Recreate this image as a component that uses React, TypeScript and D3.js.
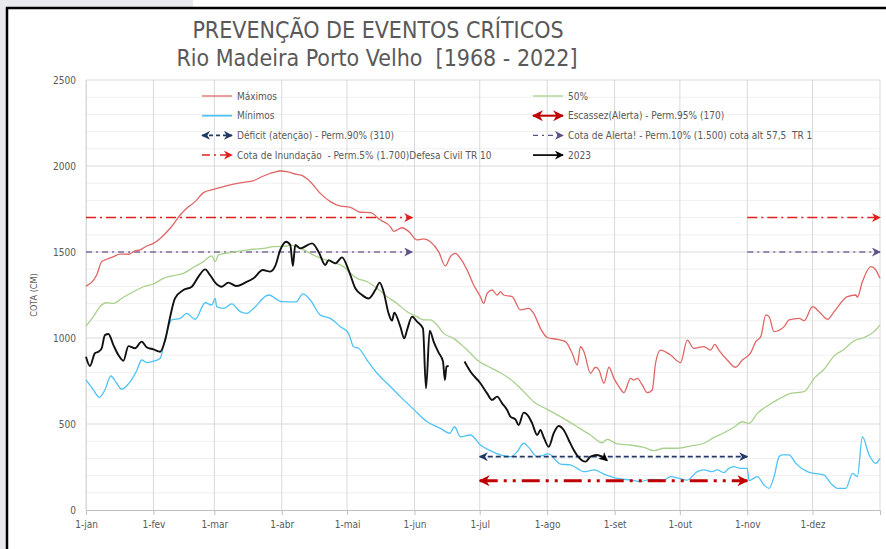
import React, { useEffect, useRef } from "react";
import * as d3 from "d3";

// eixo x: dia do ano (0 = 1-jan)
const monthStarts = [0, 31, 59, 90, 120, 151, 181, 212, 243, 273, 304, 334];
const monthLabels = ["1-jan", "1-fev", "1-mar", "1-abr", "1-mai", "1-jun", "1-jul", "1-ago", "1-set", "1-out", "1-nov", "1-dez"];
const yTicks = [0, 500, 1000, 1500, 2000, 2500];

// [dia, cota cm]
const maximos: [number, number][] = [
  [0, 1302], [4.9, 1366], [7.2, 1444], [9.5, 1458], [12.6, 1473], [15.6, 1488], [19.5, 1487], [22.5, 1506],
  [24.9, 1512], [27.9, 1535], [31, 1550], [34.1, 1579], [38.7, 1638], [43.3, 1715], [46.3, 1754], [50.2, 1793],
  [54, 1845], [58.6, 1864], [63.2, 1880], [67.8, 1895], [72.4, 1905], [77, 1915], [81.6, 1942], [86.2, 1963],
  [89.3, 1971], [92.4, 1967], [97, 1951], [98.5, 1948], [103.1, 1909], [107.7, 1841], [112.3, 1793], [116.9, 1767],
  [121.5, 1760], [126.1, 1731], [130.7, 1729], [135.3, 1686], [139.9, 1648], [141.4, 1620], [145.3, 1641], [148.3, 1620],
  [152.2, 1570], [155.2, 1576], [158.3, 1560], [162.1, 1502], [165.2, 1419], [167.5, 1473], [169.8, 1492], [172.1, 1463],
  [175.2, 1395], [178.2, 1308], [181.3, 1240], [182.8, 1201], [184.4, 1260], [186.7, 1279], [189, 1250], [190.5, 1269],
  [192, 1250], [195.9, 1240], [199.7, 1163], [203.5, 1172], [205.8, 1143], [208.9, 1056], [212, 1003], [216.6, 992],
  [220.4, 979], [223.5, 911], [225.8, 843], [227.3, 949], [228.9, 920], [231.9, 795], [234.2, 830], [235.8, 814],
  [238.1, 737], [240.4, 830], [242.7, 765], [245, 717], [247.3, 682], [250.3, 765], [251.9, 756], [253.4, 765],
  [255.7, 727], [258, 682], [260.3, 698], [261.8, 853], [264.1, 930], [268.7, 901], [273.3, 857], [276.4, 988],
  [279.4, 940], [284, 950], [287.1, 930], [289.1, 963], [290.9, 930], [294.8, 872], [298.6, 830], [301.7, 872],
  [305.6, 915], [307.9, 979], [310.2, 1008], [312.5, 1134], [314, 1124], [316.3, 1037], [320.9, 1066], [323.2, 1105],
  [327.8, 1114], [330.1, 1101], [334, 1182], [337, 1153], [340.9, 1109], [343.9, 1153], [350, 1240], [353.9, 1250],
  [354.6, 1237], [356.9, 1327], [360.8, 1415], [363.1, 1395], [365, 1347],
];

const minimos: [number, number][] = [
  [0, 756], [3.4, 698], [6.1, 655], [8.7, 698], [11.4, 779], [14.1, 737], [16.4, 702], [19.5, 733],
  [23.3, 810], [25.6, 872], [27.9, 857], [31.8, 868], [34.1, 882], [36.4, 998], [39.4, 1105], [43.3, 1114],
  [46.3, 1143], [50.2, 1109], [54.8, 1205], [57.8, 1192], [59.4, 1230], [60.1, 1182], [63.2, 1172], [67, 1198],
  [70.9, 1153], [73.9, 1143], [77, 1172], [83.9, 1250], [90.1, 1211], [96.6, 1210], [99.7, 1256], [103.1, 1221],
  [107.7, 1134], [112.3, 1114], [116.9, 1066], [120.7, 1027], [123, 949], [125.3, 940], [129.2, 872], [133.8, 795],
  [138.4, 737], [144.5, 659], [150.6, 585], [156.8, 513], [162.9, 475], [167.2, 446], [169.4, 484], [172.1, 426],
  [176.7, 436], [181.3, 378], [185.9, 345], [190.5, 320], [195.1, 310], [198.2, 339], [201.2, 388], [203.5, 364],
  [207.4, 310], [212.7, 326], [215.8, 291], [218.1, 267], [222.7, 262], [225.8, 242], [228.9, 223], [233.5, 233],
  [238.1, 209], [244.2, 184], [250.3, 174], [254.9, 165], [259.5, 178], [265.7, 174], [268.7, 194], [272.6, 184],
  [276.4, 174], [281, 223], [284, 233], [287.9, 223], [290.2, 233], [293.2, 217], [295.5, 242], [297.8, 252],
  [300.9, 242], [304, 242], [304.8, 171], [308.6, 194], [311.7, 145], [314, 126], [316.3, 194], [318.6, 310],
  [320.1, 320], [323.2, 320], [326.3, 271], [331.6, 223], [334.7, 213], [339.3, 203], [342.4, 155], [345.5, 126],
  [349.3, 126], [352.4, 213], [354.6, 194], [356.9, 426], [360, 320], [363.1, 271], [365, 300],
];

const mediana: [number, number][] = [
  [0, 1070], [3.4, 1124], [6.4, 1182], [9.5, 1205], [12.6, 1201], [17.2, 1237], [21.8, 1269], [26.4, 1298],
  [31, 1314], [35.6, 1347], [40.2, 1363], [44.8, 1376], [49.4, 1411], [54, 1444], [57.8, 1477], [59.4, 1444],
  [60.9, 1483], [66.3, 1497], [72.4, 1508], [77, 1516], [81.6, 1521], [86.2, 1531], [92.4, 1535], [93.9, 1541],
  [97, 1527], [100, 1512], [106.1, 1473], [112.3, 1444], [118.4, 1415], [121.5, 1376], [124.6, 1347], [129.2, 1327],
  [133.8, 1289], [138.4, 1240], [143, 1201], [147.6, 1153], [152.2, 1124], [155.2, 1105], [158.3, 1105], [161.4, 1076],
  [164.4, 1027], [169, 998], [173.6, 949], [176.7, 911], [179.8, 872], [184.4, 837], [190.5, 798], [195.1, 760],
  [199.7, 708], [205.8, 630], [212, 585], [218.1, 543], [225.8, 484], [231.9, 436], [237.3, 391], [239.6, 411],
  [244.2, 384], [250.3, 378], [256.5, 364], [261.1, 345], [265.7, 359], [271.8, 359], [277.9, 372], [284, 388],
  [288.7, 422], [293.3, 449], [297.8, 481], [301.7, 513], [304.8, 504], [308.6, 562], [313.2, 605], [317.8, 640],
  [324, 678], [330.1, 688], [334.7, 765], [339.3, 818], [343.9, 895], [348.5, 934], [353.1, 984], [357.7, 1003],
  [362.3, 1037], [365, 1076],
];

// null = sem registro
const cota2023: [number, number | null][] = [
  [0, 891], [1.8, 837], [4.1, 911], [5.7, 920], [7.2, 940], [8.7, 1017], [10.3, 1023], [12.6, 959],
  [14.9, 901], [17.2, 868], [19.5, 953], [22.5, 940], [25.6, 979], [27.9, 946], [31, 934], [34.1, 920],
  [36.4, 988], [38.7, 1124], [40.9, 1230], [44.8, 1279], [48.6, 1298], [51.7, 1357], [54.8, 1399], [57, 1366],
  [59.4, 1322], [62.4, 1298], [65.4, 1322], [69.3, 1302], [73.2, 1322], [77, 1347], [81.3, 1395], [84.7, 1386],
  [87, 1419], [89.3, 1512], [92, 1560], [93.9, 1541], [95.1, 1419], [96.2, 1541], [98.5, 1521], [103.9, 1550],
  [106.9, 1502], [110, 1424], [111.5, 1453], [114.6, 1434], [117.7, 1469], [120.7, 1395], [123.8, 1289], [126.9, 1250],
  [129.9, 1230], [133, 1279], [135, 1322], [136.8, 1269], [139.1, 1143], [140.7, 1101], [141.7, 1147], [144.5, 1066],
  [146.3, 998], [147.6, 1047], [149.9, 1124], [152.2, 1095], [154.9, 1056], [156.3, 707], [158, 1043], [159.8, 979],
  [162.1, 915], [164.1, 863], [165, 756], [165.7, 834], [166.7, 837], [170, null], [174, 863], [176.7, 805],
  [181.3, 737], [184.4, 678], [186.7, 640], [189, 659], [191.3, 620], [193.6, 581], [195.1, 543], [197.4, 527],
  [198.9, 494], [201.2, 566], [203.5, 543], [205.1, 504], [207.4, 436], [208.9, 465], [210.4, 423], [212.7, 368],
  [215, 446], [217.3, 488], [219.6, 465], [221.9, 407], [224.2, 349], [226.5, 306], [229.6, 281], [231.9, 310],
  [234.9, 320], [237.2, 310], [239.6, 287],
];

// cotas de referencia e periodos (dias)
const cotaInundacao = 1700;
const cotaAlerta = 1500;
const cotaDeficit = 310;
const cotaEscassez = 170;
const periodosCheia: [number, number][] = [[0, 150], [304, 365]];
const periodoSeca: [number, number] = [181, 304];

const FONT = "'Liberation Sans Narrow', 'DejaVu Sans Condensed', 'Roboto Condensed', sans-serif";
const GREY_TXT = "#595959";

const App = () => {
  const svgRef = useRef<SVGSVGElement>(null);

  useEffect(() => {
    const svg = d3.select(svgRef.current);
    svg.selectAll("*").remove();

    const W = 886;
    const H = 549;
    const margin = { top: 80, left: 86, right: 6, bottom: 39 };

    // fundo e moldura
    svg.append("rect").attr("width", W).attr("height", H).attr("fill", "#fff");
    svg.append("rect").attr("width", 193).attr("height", 7).attr("fill", "#e8eaed");
    svg.append("rect").attr("width", 6).attr("height", H).attr("fill", "#e8eaed");
    svg.append("line").attr("x1", 6).attr("x2", W).attr("y1", 8).attr("y2", 8).attr("stroke", "#000").attr("stroke-width", 2.5);
    svg.append("line").attr("x1", 7).attr("x2", 7).attr("y1", 7).attr("y2", H).attr("stroke", "#000").attr("stroke-width", 2.5);

    const x = d3.scaleLinear().domain([0, 365]).range([margin.left, W - margin.right]);
    const y = d3.scaleLinear().domain([0, 2500]).range([H - margin.bottom, margin.top]);

    // marcadores de seta
    const defs = svg.append("defs");
    const marker = (id: string, color: string, size: number) => {
      defs.append("marker")
        .attr("id", id)
        .attr("viewBox", "0 0 10 10")
        .attr("refX", 9)
        .attr("refY", 5)
        .attr("markerUnits", "userSpaceOnUse")
        .attr("markerWidth", size)
        .attr("markerHeight", size)
        .attr("orient", "auto-start-reverse")
        .append("path")
        .attr("d", "M0,0 L10,5 L0,10 L3,5 z")
        .attr("fill", color);
    };
    marker("arr-inund", "#e0201e", 9);
    marker("arr-alerta", "#5e4f86", 9);
    marker("arr-deficit", "#1f3864", 9);
    marker("arr-escassez", "#c00000", 11);
    marker("arr-2023", "#000", 9);

    // grade
    const grid = svg.append("g");
    grid.selectAll("line.minor")
      .data(d3.range(100, 2501, 100).filter((v) => v % 500 !== 0))
      .enter()
      .append("line")
      .attr("x1", x(0)).attr("x2", x(365))
      .attr("y1", (d) => y(d)).attr("y2", (d) => y(d))
      .attr("stroke", "#f0f0f0");
    grid.selectAll("line.major")
      .data(yTicks.slice(1))
      .enter()
      .append("line")
      .attr("x1", x(0)).attr("x2", x(365))
      .attr("y1", (d) => y(d)).attr("y2", (d) => y(d))
      .attr("stroke", "#d9d9d9");
    grid.selectAll("line.v")
      .data([...monthStarts, 365])
      .enter()
      .append("line")
      .attr("x1", (d) => x(d)).attr("x2", (d) => x(d))
      .attr("y1", y(0)).attr("y2", y(2500))
      .attr("stroke", "#d9d9d9");

    // eixos
    const xAxis = svg.append("g")
      .attr("transform", `translate(0,${y(0)})`)
      .call(d3.axisBottom(x).tickValues(monthStarts).tickFormat((d, i) => monthLabels[i]).tickSize(5).tickPadding(6));
    xAxis.select(".domain").attr("stroke", "#bfbfbf");
    xAxis.selectAll(".tick line").attr("stroke", "#bfbfbf");
    xAxis.selectAll("text").attr("fill", GREY_TXT).attr("font-size", 10).attr("font-family", FONT);

    const yAxis = svg.append("g")
      .attr("transform", `translate(${x(0)},0)`)
      .call(d3.axisLeft(y).tickValues(yTicks).tickFormat(d3.format("d")).tickSize(0).tickPadding(10));
    yAxis.select(".domain").attr("stroke", "#d9d9d9");
    yAxis.selectAll("text").attr("fill", GREY_TXT).attr("font-size", 10).attr("font-family", FONT);

    svg.append("text")
      .attr("transform", `translate(37,${y(1250)}) rotate(-90)`)
      .attr("text-anchor", "middle")
      .attr("font-size", 9)
      .attr("font-family", FONT)
      .attr("fill", GREY_TXT)
      .text("COTA (CM)");

    // titulo
    const title = svg.append("g").attr("font-family", FONT).attr("fill", GREY_TXT).attr("text-anchor", "middle").attr("font-size", 23);
    title.append("text").attr("x", 378).attr("y", 38).text("PREVENÇÃO DE EVENTOS CRÍTICOS");
    title.append("text").attr("x", 377).attr("y", 66).style("white-space", "pre").text("Rio Madeira Porto Velho  [1968 - 2022]");

    // linhas de referencia (cheia)
    const refG = svg.append("g");
    periodosCheia.forEach(([a, b]) => {
      refG.append("line")
        .attr("x1", x(a)).attr("x2", x(b)).attr("y1", y(cotaInundacao)).attr("y2", y(cotaInundacao))
        .attr("stroke", "#e0201e").attr("stroke-width", 1.5).attr("stroke-dasharray", "10 4 2 4")
        .attr("marker-end", "url(#arr-inund)");
      refG.append("line")
        .attr("x1", x(a)).attr("x2", x(b)).attr("y1", y(cotaAlerta)).attr("y2", y(cotaAlerta))
        .attr("stroke", "#7b6c9b").attr("stroke-width", 1.3).attr("stroke-dasharray", "6 4 2 4")
        .attr("marker-end", "url(#arr-alerta)");
    });

    // series
    const line = d3.line<[number, number | null]>()
      .defined((d) => d[1] !== null)
      .x((d) => x(d[0]))
      .y((d) => y(d[1] as number))
      .curve(d3.curveMonotoneX);

    svg.append("path").datum(maximos).attr("d", line as any).attr("fill", "none").attr("stroke", "#e06666").attr("stroke-width", 1.3);
    svg.append("path").datum(mediana).attr("d", line as any).attr("fill", "none").attr("stroke", "#a9d18e").attr("stroke-width", 1.3);
    svg.append("path").datum(minimos).attr("d", line as any).attr("fill", "none").attr("stroke", "#4fc3f7").attr("stroke-width", 1.3);

    // linhas de referencia (seca)
    const secaG = svg.append("g");
    secaG.append("line")
      .attr("x1", x(periodoSeca[0])).attr("x2", x(periodoSeca[1])).attr("y1", y(cotaDeficit)).attr("y2", y(cotaDeficit))
      .attr("stroke", "#1f3864").attr("stroke-width", 1.8).attr("stroke-dasharray", "5 3")
      .attr("marker-start", "url(#arr-deficit)").attr("marker-end", "url(#arr-deficit)");
    secaG.append("line")
      .attr("x1", x(periodoSeca[0])).attr("x2", x(periodoSeca[1])).attr("y1", y(cotaEscassez)).attr("y2", y(cotaEscassez))
      .attr("stroke", "#c00000").attr("stroke-width", 3).attr("stroke-dasharray", "18 6 3 6 3 6")
      .attr("marker-start", "url(#arr-escassez)").attr("marker-end", "url(#arr-escassez)");

    svg.append("path").datum(cota2023).attr("d", line as any).attr("fill", "none").attr("stroke", "#111").attr("stroke-width", 1.9)
      .attr("marker-end", "url(#arr-2023)");

    // legenda
    const legend = [
      { label: "Máximos", col: 0, row: 0, color: "#e06666", w: 1.3, dash: null, start: false, end: null },
      { label: "Mínimos", col: 0, row: 1, color: "#4fc3f7", w: 1.8, dash: null, start: false, end: null },
      { label: "Déficit (atenção) - Perm.90% (310)", col: 0, row: 2, color: "#1f3864", w: 1.8, dash: "4 3", start: true, end: "arr-deficit" },
      { label: "Cota de Inundação  - Perm.5% (1.700)Defesa Civil TR 10", col: 0, row: 3, color: "#e0201e", w: 1.5, dash: "8 4 2 4", start: false, end: "arr-inund" },
      { label: "50%", col: 1, row: 0, color: "#a9d18e", w: 1.3, dash: null, start: false, end: null },
      { label: "Escassez(Alerta) - Perm.95% (170)", col: 1, row: 1, color: "#c00000", w: 2, dash: null, start: true, end: "arr-escassez" },
      { label: "Cota de Alerta! - Perm.10% (1.500) cota alt 57,5  TR 1", col: 1, row: 2, color: "#5e4f86", w: 1.3, dash: "5 4 2 4", start: false, end: "arr-alerta" },
      { label: "2023", col: 1, row: 3, color: "#111", w: 1.8, dash: null, start: false, end: "arr-2023" },
    ];
    const lg = svg.append("g");
    legend.forEach((e) => {
      const lx = e.col === 0 ? 202 : 533;
      const ly = 96 + e.row * 19.7;
      const l = lg.append("line")
        .attr("x1", lx).attr("x2", lx + 30).attr("y1", ly).attr("y2", ly)
        .attr("stroke", e.color).attr("stroke-width", e.w);
      if (e.dash) l.attr("stroke-dasharray", e.dash);
      if (e.start && e.end) l.attr("marker-start", `url(#${e.end})`);
      if (e.end) l.attr("marker-end", `url(#${e.end})`);
      lg.append("text")
        .attr("x", lx + 35).attr("y", ly + 3.5)
        .attr("font-size", 10).attr("font-family", FONT).attr("fill", GREY_TXT)
        .style("white-space", "pre")
        .text(e.label);
    });
  }, []);

  return <svg ref={svgRef} width={886} height={549} style={{ position: "fixed", left: 0, top: 0 }} />;
};

export default App;
